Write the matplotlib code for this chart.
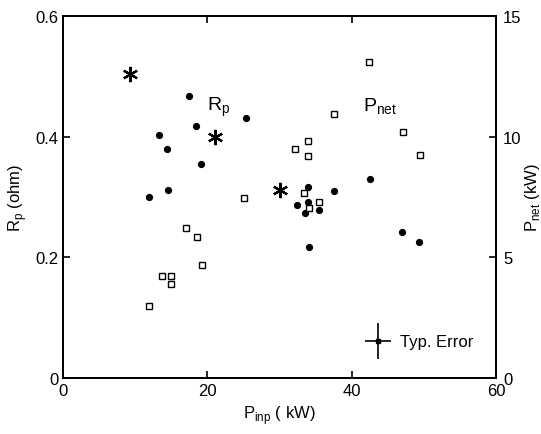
import matplotlib
matplotlib.use("Agg")
import matplotlib.pyplot as plt

plt.rcParams["font.family"] = ["Liberation Sans", "DejaVu Sans"]

# R_p (ohm) vs input power (filled circles, left axis)
rp_pinp = [17.5, 25.3, 18.4, 13.3, 14.4, 19.1, 14.6, 11.9, 42.6, 37.5, 34.0,
           32.4, 34.0, 33.5, 35.5, 34.1, 47.0, 49.3]
rp_ohm = [0.467, 0.431, 0.418, 0.402, 0.380, 0.354, 0.312, 0.300, 0.329, 0.310,
          0.316, 0.287, 0.292, 0.274, 0.279, 0.217, 0.242, 0.226]

# P_net (kW) vs input power (open squares, right axis)
pnet_pinp = [25.1, 17.1, 18.6, 19.25, 13.75, 14.9, 14.9, 11.95, 42.4, 37.5,
             47.1, 34.0, 32.1, 34.0, 49.5, 33.4, 35.5, 34.1]
pnet_kw = [7.45, 6.20, 5.84, 4.68, 4.21, 4.21, 3.91, 3.00, 13.08, 10.93,
           10.18, 9.84, 9.48, 9.19, 9.24, 7.67, 7.31, 7.05]

# asterisks (left axis units)
star_pinp = [9.3, 21.0, 30.0]
star_ohm = [0.504, 0.400, 0.311]

# typical error bar
err_pinp, err_ohm = 43.7, 0.061
err_dx, err_dy = 1.8, 0.030

fig = plt.figure(figsize=(5.41, 4.35), dpi=100)
ax = fig.add_axes([0.1165, 0.1287, 0.8003, 0.8323])
ax2 = ax.twinx()

ax.plot(rp_pinp, rp_ohm, "o", color="black", markersize=4.2, zorder=3)
ax2.plot(pnet_pinp, pnet_kw, "s", mfc="white", mec="black", mew=1.0,
         markersize=4.0, zorder=2)
ax.plot(star_pinp, star_ohm, marker=(6, 2, 0), linestyle="none", color="black",
        markersize=11, mew=1.6)

ax.errorbar([err_pinp], [err_ohm], xerr=[err_dx], yerr=[err_dy], fmt="s",
            color="black", markersize=3.5, elinewidth=1.2, capsize=0)
ax.text(err_pinp + 3.0, err_ohm, "Typ. Error", fontsize=12, va="center")

ax.text(21.5, 0.451, r"R$_\mathregular{p}$", fontsize=14, ha="center", va="center")
ax.text(44.0, 0.451, r"P$_\mathregular{net}$", fontsize=14, ha="center", va="center")

ax.set_xlim(0, 60)
ax.set_ylim(0, 0.6)
ax2.set_ylim(0, 15)
ax.set_xticks([0, 20, 40, 60])
ax.set_xticklabels(["0", "20", "40", "60"])
ax.set_yticks([0, 0.2, 0.4, 0.6])
ax.set_yticklabels(["0", "0.2", "0.4", "0.6"])
ax2.set_yticks([0, 5, 10, 15])

ax.tick_params(axis="both", direction="in", length=5, width=1.2, labelsize=12,
               top=True)
ax2.tick_params(axis="y", direction="in", length=5, width=1.2, labelsize=12,
                pad=5)

ax.set_xlabel(r"P$_\mathregular{inp}$ ( kW)", fontsize=12)
ax.set_ylabel(r"R$_\mathregular{p}$ (ohm)", fontsize=12)
ax2.set_ylabel(r"P$_\mathregular{net}$ (kW)", fontsize=12, labelpad=1)

for a in (ax, ax2):
    for s in a.spines.values():
        s.set_linewidth(1.3)

fig.savefig("out.png", dpi=100)
